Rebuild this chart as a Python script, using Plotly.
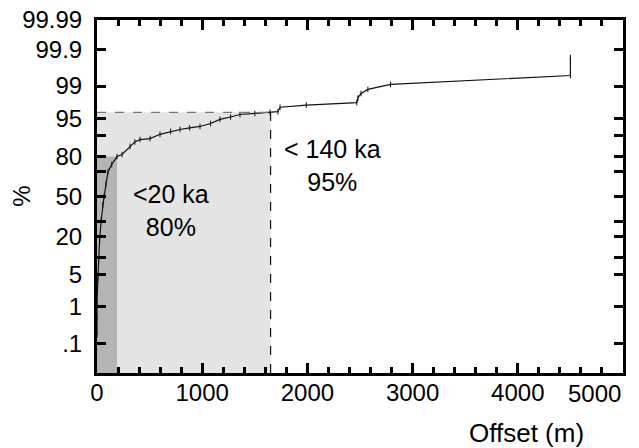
import plotly.graph_objects as go
from statistics import NormalDist

# cumulative distribution of offsets
offset_m = [0, 0, 0, 8, 15, 25, 40, 55, 67, 85, 105, 140, 190, 238, 314, 360,
            409, 504, 599, 700, 789, 880, 979, 1080, 1169, 1270, 1359, 1500,
            1645, 1720, 1740, 1990, 2470, 2480, 2510, 2575, 2790, 4500, 4500]
cum_pct = [0.18, 0.54, 1.3, 4, 9, 18, 31, 43, 50, 60, 70, 75, 80, 81.2, 85.4,
           87.5, 88.5, 88.9, 90.5, 91.5, 92.1, 92.6, 93.0, 93.8, 94.8, 95.3,
           95.8, 96.0, 96.2, 96.3, 97.0, 97.3, 97.6, 98.1, 98.5, 98.8, 99.09,
           99.46, 99.83]

# age windows: offset limit (m) and cumulative percent reached
win20_offset, win20_pct = 190, 80
win140_offset, win140_pct = 1650, 96.2

y_tick_pct = [0.01, 0.1, 1, 5, 10, 20, 30, 50, 70, 80, 90, 95, 99, 99.9, 99.99]
y_tick_text = ["", ".1", "1", "5", "", "20", "", "50", "", "80", "", "95",
               "99", "99.9", "99.99"]
x_tick_vals = [0, 1000, 2000, 3000, 4000, 5000]
x_tick_text = ["0", "1000", "2000", "3000", "4000", ""]
x_last_label = "5000"  # drawn right-aligned at the axis end

nd = NormalDist()


def probit(p):
    return nd.inv_cdf(p / 100)


y_lo, y_hi = probit(0.01), probit(99.99)

fig = go.Figure()
fig.add_trace(
    go.Scatter(
        x=offset_m,
        y=[probit(p) for p in cum_pct],
        mode="lines+markers",
        line=dict(color="#111", width=1.2),
        marker=dict(symbol="line-ns-open", size=4, line=dict(color="#111", width=1)),
        cliponaxis=False,
        hoverinfo="skip",
    )
)

# shaded windows
fig.add_shape(type="rect", x0=0, x1=win140_offset, y0=y_lo, y1=probit(win140_pct),
              fillcolor="#e4e4e4", line_width=0, layer="below")
fig.add_shape(type="rect", x0=0, x1=win20_offset, y0=y_lo, y1=probit(win20_pct),
              fillcolor="#b4b4b4", line_width=0, layer="below")
fig.add_shape(type="line", x0=0, x1=win140_offset, y0=probit(win140_pct),
              y1=probit(win140_pct), line=dict(color="#777", width=1.2, dash="dash"))
fig.add_shape(type="line", x0=win140_offset, x1=win140_offset, y0=y_lo,
              y1=probit(win140_pct), line=dict(color="#111", width=1.2, dash="dash"))

fig.add_annotation(x=700, y=probit(38.5), text="<20 ka<br>80%", showarrow=False,
                   font=dict(size=25))
fig.add_annotation(x=2240, y=probit(74.5), text="< 140 ka<br>95%", showarrow=False,
                   font=dict(size=25))
fig.add_annotation(x=5000, y=0, xref="x", yref="paper", text=x_last_label,
                   xanchor="right", yanchor="top", yshift=-5, showarrow=False,
                   font=dict(size=24))
fig.add_annotation(x=0.816, y=-0.170, xref="paper", yref="paper", text="Offset (m)",
                   xanchor="center", yanchor="middle", showarrow=False,
                   font=dict(size=26))
fig.add_annotation(x=-0.144, y=0.5, xref="paper", yref="paper", text="%",
                   xanchor="center", yanchor="middle", textangle=-90,
                   showarrow=False, font=dict(size=24))

# the page body adds an 8 px offset, so the figure is 8 px smaller
fig.update_layout(
    width=631,
    height=440,
    autosize=False,
    margin=dict(l=89, r=16, t=12, b=75),
    plot_bgcolor="white",
    paper_bgcolor="white",
    font=dict(family="Liberation Sans, Arial, sans-serif", size=24, color="black"),
    showlegend=False,
    xaxis=dict(
        range=[0, 5000],
        tickvals=x_tick_vals,
        ticktext=x_tick_text,
        ticks="inside",
        ticklen=10,
        tickwidth=2.5,
        tickcolor="black",
        minor=dict(dtick=200, ticks="inside", ticklen=6, tickwidth=2.5, tickcolor="black"),
        showline=True,
        linewidth=3,
        linecolor="black",
        mirror="ticks",
        showgrid=False,
        zeroline=False,
        automargin=False,
        ticklabelstandoff=-4,
    ),
    yaxis=dict(
        range=[y_lo, y_hi],
        tickvals=[probit(p) for p in y_tick_pct],
        ticktext=y_tick_text,
        ticks="inside",
        ticklen=9,
        tickwidth=2.5,
        tickcolor="black",
        showline=True,
        linewidth=3,
        linecolor="black",
        mirror="ticks",
        showgrid=False,
        zeroline=False,
        automargin=False,
        ticklabeloverflow="allow",
        ticklabelstandoff=7,
    ),
)

fig.write_html("out.html")
